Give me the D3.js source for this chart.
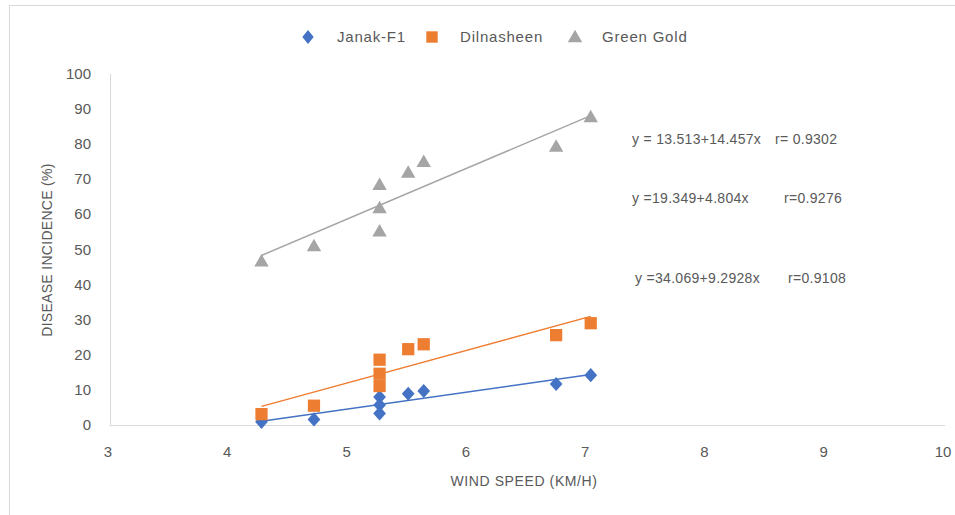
<!DOCTYPE html>
<html>
<head>
<meta charset="utf-8">
<script src="https://cdn.jsdelivr.net/npm/d3@7"></script>
<style>
  body { margin: 0; background: #fff; }
  svg { display: block; font-family: "Liberation Sans", Arial, sans-serif; }
</style>
</head>
<body>
<svg id="chart" width="955" height="515"></svg>
<script>
// Wind speed values (x)
const windSpeed = [4.27, 4.71, 5.26, 5.26, 5.26, 5.5, 5.63, 6.74, 7.03];

// Disease incidence (%) for each variety
const janakF1 = [0.9, 1.6, 3.3, 5.7, 8.0, 8.9, 9.7, 11.7, 14.2];
const dilnasheen = [3.1, 5.5, 11.1, 14.6, 18.6, 21.6, 23.0, 25.6, 29.0];
const greenGold = [46.6, 51.0, 55.2, 61.8, 68.4, 71.9, 75.0, 79.3, 87.7];

const seriesNames = ["Janak-F1", "Dilnasheen", "Green Gold"];
const seriesColors = ["#4472c4", "#ed7d31", "#a5a5a5"];

const xTicks = [3, 4, 5, 6, 7, 8, 9, 10];
const yTicks = [0, 10, 20, 30, 40, 50, 60, 70, 80, 90, 100];

// Equation labels as printed on the chart
const equations = [
  { eq: "y = 13.513+14.457x", r: "r= 0.9302", x: 632, rx: 775, y: 139 },
  { eq: "y =19.349+4.804x", r: "r=0.9276", x: 632, rx: 784, y: 198 },
  { eq: "y =34.069+9.2928x", r: "r=0.9108", x: 635, rx: 788, y: 278 },
];

const svg = d3.select("#chart");
const TEXT = "#595959";

// outer chart border (cropped at right and bottom)
svg.append("rect")
  .attr("x", 9.5).attr("y", 5.5)
  .attr("width", 1000).attr("height", 600)
  .attr("fill", "none").attr("stroke", "#d9d9d9");

const x = d3.scaleLinear().domain([3, 10]).range([110, 945]);
const y = d3.scaleLinear().domain([0, 100]).range([425, 74]);

// axes lines, no gridlines
svg.append("line")
  .attr("x1", x(3)).attr("x2", x(10))
  .attr("y1", y(0) + 0.5).attr("y2", y(0) + 0.5)
  .attr("stroke", "#d9d9d9");
svg.append("line")
  .attr("x1", x(3) + 0.5).attr("x2", x(3) + 0.5)
  .attr("y1", y(0)).attr("y2", y(100))
  .attr("stroke", "#d9d9d9");

// tick labels
svg.selectAll(".xt").data(xTicks).enter().append("text")
  .attr("x", (d) => x(d) - 2).attr("y", 457)
  .attr("text-anchor", "middle")
  .attr("fill", TEXT).style("font-size", "15px")
  .text((d) => d);

svg.selectAll(".yt").data(yTicks).enter().append("text")
  .attr("x", 91).attr("y", (d) => y(d) + 5)
  .attr("text-anchor", "end")
  .attr("fill", TEXT).style("font-size", "15px")
  .text((d) => d);

// axis titles
svg.append("text")
  .attr("x", 524).attr("y", 486)
  .attr("text-anchor", "middle")
  .attr("fill", TEXT).style("font-size", "14px")
  .style("letter-spacing", "0.6px")
  .text("WIND SPEED (KM/H)");

svg.append("text")
  .attr("transform", "translate(52,250) rotate(-90)")
  .attr("text-anchor", "middle")
  .attr("fill", TEXT).style("font-size", "14px")
  .style("letter-spacing", "0.3px")
  .text("DISEASE INCIDENCE (%)");

// marker shapes: diamond is a rotated square, a bit taller than wide
const symbols = [d3.symbolSquare, d3.symbolSquare, d3.symbolTriangle];
const sizes = [90, 150, 90];
const extra = [" rotate(45)", "", ""];
const allSeries = [janakF1, dilnasheen, greenGold];

// least squares fit for the trendlines
const fit = (xs, ys) => {
  const mx = d3.mean(xs);
  const my = d3.mean(ys);
  const b = d3.sum(xs, (v, i) => (v - mx) * (ys[i] - my)) /
    d3.sum(xs, (v) => (v - mx) * (v - mx));
  return { a: my - b * mx, b: b };
};

allSeries.forEach((vals, s) => {
  const line = fit(windSpeed, vals);
  const x0 = d3.min(windSpeed);
  const x1 = d3.max(windSpeed);
  svg.append("line")
    .attr("x1", x(x0)).attr("y1", y(line.a + line.b * x0))
    .attr("x2", x(x1)).attr("y2", y(line.a + line.b * x1))
    .attr("stroke", seriesColors[s])
    .attr("stroke-width", 1.5);
});

allSeries.forEach((vals, s) => {
  const sym = d3.symbol().type(symbols[s]).size(sizes[s]);
  svg.selectAll(".pt" + s)
    .data(vals)
    .enter()
    .append("path")
    .attr("d", sym)
    .attr("transform", (d, i) =>
      `translate(${x(windSpeed[i])},${y(d) + (s === 2 ? 1 : 0)}) scale(${s === 0 ? "0.95,1.05" : "1,1"})` + extra[s])
    .attr("fill", seriesColors[s]);
});

// legend
const legendX = [308, 432, 575];
const legendTextX = [337, 460, 602];
seriesNames.forEach((name, s) => {
  svg.append("path")
    .attr("d", d3.symbol().type(symbols[s]).size(s === 1 ? 130 : sizes[s])())
    .attr("transform", `translate(${legendX[s]},${s === 2 ? 38 : 37}) scale(${s === 0 ? "0.85,1.05" : "1,1"})` + extra[s])
    .attr("fill", seriesColors[s]);
  svg.append("text")
    .attr("x", legendTextX[s]).attr("y", 42)
    .attr("fill", TEXT).style("font-size", "15px")
    .style("letter-spacing", "0.8px")
    .text(name);
});

// equation labels
equations.forEach((e) => {
  svg.append("text")
    .attr("x", e.x).attr("y", e.y + 5)
    .attr("fill", TEXT).style("font-size", "14px")
    .style("letter-spacing", "0.3px")
    .text(e.eq);
  svg.append("text")
    .attr("x", e.rx).attr("y", e.y + 5)
    .attr("fill", TEXT).style("font-size", "14px")
    .style("letter-spacing", "0.3px")
    .text(e.r);
});
</script>
</body>
</html>
